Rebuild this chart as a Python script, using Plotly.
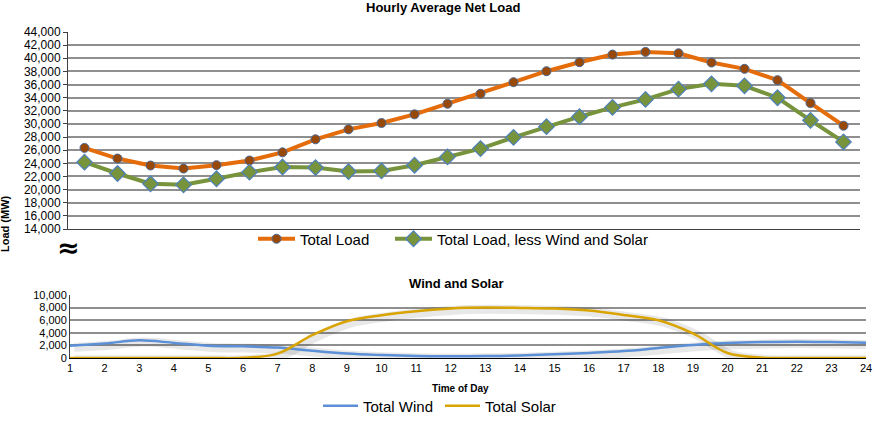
import plotly.graph_objects as go

hours = list(range(1, 25))
total_load = [26350, 24730, 23670, 23200, 23720, 24430, 25670, 27660, 29180, 30140,
              31460, 33070, 34590, 36360, 38030, 39400, 40560, 40970, 40760, 39350,
              38390, 36670, 33180, 29730]
net_load = [24180, 22450, 20890, 20730, 21650, 22660, 23440, 23360, 22750, 22850,
            23710, 24980, 26240, 27960, 29580, 31100, 32520, 33730, 35300, 36110,
            35810, 33990, 30550, 27260]
total_wind = [1950, 2300, 2800, 2400, 1950, 1850, 1650, 1150, 700, 470,
              320, 280, 300, 400, 580, 800, 1100, 1580, 2050, 2370,
              2520, 2580, 2520, 2420]
total_solar = [0, 0, 0, 0, 0, 30, 700, 3630, 5840, 6790,
               7420, 7870, 8000, 7950, 7840, 7530, 6840, 6000, 3900, 790,
               50, 0, 0, 0]

FONT = "Liberation Sans, Arial, sans-serif"
ORANGE = "#E46C0A"
BROWN = "#984807"
GREEN = "#77933C"
BLUE_EDGE = "#4F81BD"
WIND = "#5B8FD6"
SOLAR = "#D9A300"
GRID = "#8f8f8f"

fig = go.Figure()

# soft shadows for bottom chart lines (derived from the data)
for vals in (total_wind, total_solar):
    fig.add_trace(go.Scatter(
        x=[h + 0.12 for h in hours], y=[v - 280 for v in vals],
        mode="lines", line=dict(color="rgba(0,0,0,0.09)", width=9, shape="spline"),
        xaxis="x2", yaxis="y2", showlegend=False, hoverinfo="skip"))

fig.add_trace(go.Scatter(
    x=hours, y=total_load, name="Total Load", mode="lines+markers",
    line=dict(color=ORANGE, width=4),
    marker=dict(symbol="circle", size=9, color=BROWN, line=dict(color="#4a6a9a", width=1)),
    xaxis="x", yaxis="y", legend="legend"))
fig.add_trace(go.Scatter(
    x=hours, y=net_load, name="Total Load, less Wind and Solar", mode="lines+markers",
    line=dict(color=GREEN, width=4),
    marker=dict(symbol="diamond", size=12, color=GREEN, line=dict(color=BLUE_EDGE, width=1.2)),
    xaxis="x", yaxis="y", legend="legend3"))

fig.add_trace(go.Scatter(
    x=hours, y=total_wind, name="Total Wind", mode="lines",
    line=dict(color=WIND, width=2.5, shape="spline"),
    xaxis="x2", yaxis="y2", legend="legend2"))
fig.add_trace(go.Scatter(
    x=hours, y=total_solar, name="Total Solar", mode="lines",
    line=dict(color=SOLAR, width=2.5, shape="spline"),
    xaxis="x2", yaxis="y2", legend="legend4"))


def leg(xpx, ypx, iw):
    return dict(orientation="h", x=xpx/882, xanchor="left", y=ypx/422, yanchor="middle",
                itemwidth=iw, font=dict(size=15, family=FONT), bgcolor="rgba(0,0,0,0)")


fig.update_layout(
    width=882, height=422, autosize=False,
    margin=dict(l=0, r=0, t=0, b=0, autoexpand=False),
    paper_bgcolor="white", plot_bgcolor="white",
    font=dict(family=FONT, color="black"),
    xaxis=dict(domain=[68/882, 860/882], range=[0.5, 24.5], showticklabels=False,
               showgrid=False, zeroline=False, showline=True, linecolor="#404040",
               linewidth=1, ticks="", anchor="y", automargin=False),
    yaxis=dict(domain=[193/422, 390/422], range=[14000, 44000], dtick=2000,
               tickformat=",", showgrid=True, gridcolor=GRID, gridwidth=1.5,
               zeroline=False, showline=True, linecolor="#404040", linewidth=1,
               ticks="outside", ticklen=4, tickcolor="#404040",
               tickfont=dict(size=12, family=FONT), anchor="x", automargin=False),
    xaxis2=dict(domain=[70/882, 866/882], range=[1, 24], dtick=1,
                showgrid=False, zeroline=False, showline=True, linecolor="black",
                linewidth=1.2, ticks="", tickfont=dict(size=11, family=FONT),
                anchor="y2", automargin=False),
    yaxis2=dict(domain=[64/422, 127/422], range=[0, 10000], dtick=2000,
                tickformat=",", showgrid=True, gridcolor=GRID, gridwidth=1.5,
                zeroline=False, showline=True, linecolor="#404040", linewidth=1,
                ticks="", tickfont=dict(size=11, family=FONT), anchor="x2",
                automargin=False),
    legend=leg(253, 183, 37),
    legend3=leg(390, 183, 37),
    legend2=leg(318, 16, 35),
    legend4=leg(440, 16, 35),
    annotations=[
        dict(text="<b>Hourly Average Net Load</b>", x=443/882, y=414/422, xref="paper",
             yref="paper", showarrow=False, font=dict(size=13, family=FONT),
             xanchor="center", yanchor="middle"),
        dict(text="<b>Wind and Solar</b>", x=456/882, y=139/422, xref="paper",
             yref="paper", showarrow=False, font=dict(size=13, family=FONT),
             xanchor="center", yanchor="middle"),
        dict(text="<b>Time of Day</b>", x=460/882, y=34/422, xref="paper",
             yref="paper", showarrow=False, font=dict(size=10, family=FONT),
             xanchor="center", yanchor="middle"),
        dict(text="<b>Load (MW)</b>", x=5/882, y=198/422, xref="paper", yref="paper",
             showarrow=False, textangle=-90, font=dict(size=11, family=FONT),
             xanchor="center", yanchor="middle"),
        dict(text="<b>≈</b>", x=68/882, y=175/422, xref="paper", yref="paper",
             showarrow=False, font=dict(size=27, family="DejaVu Sans"),
             xanchor="center", yanchor="middle"),
    ],
)

fig.write_html("out.html", post_script="document.body.style.margin='0';",
               config={"displayModeBar": False})
